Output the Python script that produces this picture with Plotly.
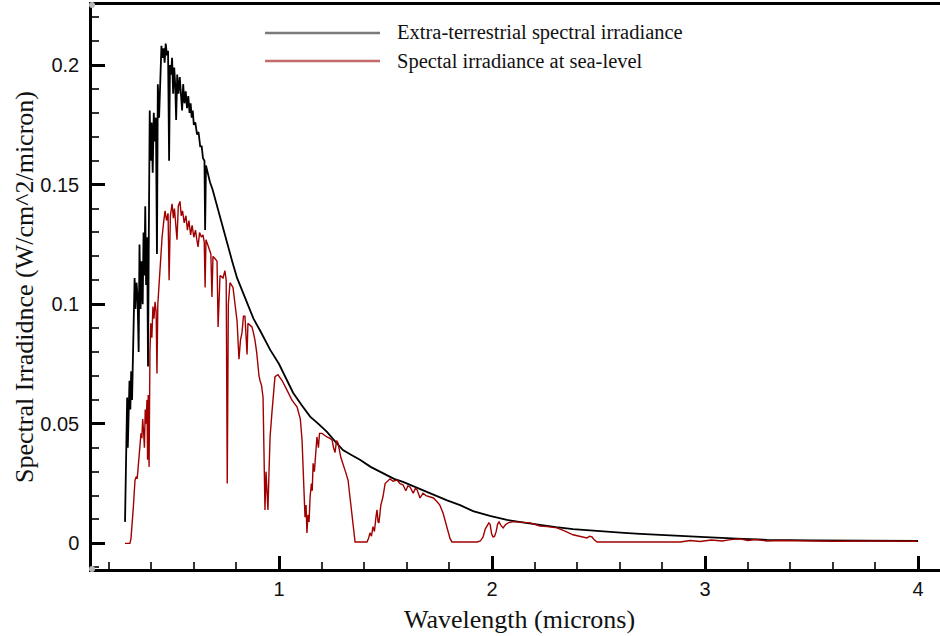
import plotly.graph_objects as go

# ---- data: extra-terrestrial spectral irradiance (W/cm^2/micron) ----
et_wavelength = [
    0.277, 0.280, 0.284, 0.287, 0.290, 0.294, 0.298, 0.302, 0.306, 0.310,
    0.314, 0.318, 0.322, 0.326, 0.331, 0.336, 0.341, 0.345, 0.350, 0.355,
    0.360, 0.364, 0.368, 0.372, 0.376, 0.381, 0.385, 0.389, 0.393, 0.397,
    0.402, 0.407, 0.412, 0.417, 0.422, 0.427, 0.431, 0.437, 0.442, 0.448,
    0.453, 0.458, 0.463, 0.468, 0.474, 0.479, 0.484, 0.488, 0.493, 0.498,
    0.503, 0.508, 0.513, 0.517, 0.522, 0.528, 0.534, 0.540, 0.545, 0.550,
    0.556, 0.562, 0.568, 0.574, 0.580, 0.585, 0.590, 0.595, 0.600, 0.607,
    0.615, 0.622, 0.630, 0.637, 0.643, 0.650, 0.653, 0.657, 0.666, 0.676,
    0.688, 0.700, 0.712, 0.723, 0.740, 0.756, 0.780, 0.803, 0.830, 0.854,
    0.880, 0.911, 0.935, 0.958, 1.000, 1.038, 1.066, 1.105, 1.146, 1.185,
    1.225, 1.260, 1.300, 1.340, 1.380, 1.430, 1.488, 1.540, 1.582, 1.640,
    1.695, 1.750, 1.789, 1.850, 1.911, 1.990, 2.070, 2.150, 2.225, 2.300,
    2.380, 2.460, 2.540, 2.620, 2.695, 2.800, 2.977, 3.150, 3.291, 3.500,
    3.750, 4.000,
]
et_irradiance = [
    0.009, 0.032, 0.045, 0.061, 0.040, 0.052, 0.068, 0.056, 0.072, 0.060,
    0.077, 0.095, 0.111, 0.098, 0.109, 0.103, 0.080, 0.125, 0.098, 0.118,
    0.100, 0.130, 0.112, 0.141, 0.108, 0.128, 0.074, 0.132, 0.181, 0.160,
    0.176, 0.155, 0.180, 0.168, 0.178, 0.121, 0.192, 0.178, 0.196, 0.208,
    0.203, 0.207, 0.201, 0.209, 0.204, 0.206, 0.160, 0.200, 0.196, 0.203,
    0.188, 0.199, 0.191, 0.177, 0.196, 0.188, 0.195, 0.186, 0.181, 0.192,
    0.184, 0.189, 0.182, 0.187, 0.180, 0.184, 0.178, 0.181, 0.175, 0.176,
    0.171, 0.172, 0.166, 0.166, 0.161, 0.160, 0.131, 0.158, 0.154, 0.151,
    0.148, 0.144, 0.140, 0.136, 0.131, 0.126, 0.118, 0.111, 0.105, 0.100,
    0.094, 0.089, 0.085, 0.081, 0.075, 0.068, 0.063, 0.058, 0.053, 0.050,
    0.0466, 0.043, 0.039, 0.037, 0.035, 0.032, 0.0295, 0.027, 0.0257, 0.0235,
    0.0215, 0.0195, 0.018, 0.016, 0.0135, 0.0115, 0.0098, 0.0087, 0.0077, 0.0068,
    0.006, 0.0054, 0.0048, 0.0044, 0.004, 0.0034, 0.0027, 0.0020, 0.0015, 0.0013,
    0.0011, 0.0010,
]

# ---- data: spectral irradiance at sea level (W/cm^2/micron) ----
sl_wavelength = [
    0.277, 0.300, 0.305, 0.310, 0.316, 0.320, 0.324, 0.330, 0.334, 0.338,
    0.343, 0.347, 0.352, 0.356, 0.360, 0.364, 0.368, 0.372, 0.376, 0.380,
    0.383, 0.386, 0.390, 0.394, 0.398, 0.403, 0.408, 0.413, 0.418, 0.423,
    0.427, 0.431, 0.437, 0.444, 0.451, 0.458, 0.465, 0.472, 0.479, 0.484,
    0.490, 0.498, 0.504, 0.509, 0.515, 0.521, 0.527, 0.535, 0.541, 0.547,
    0.555, 0.563, 0.570, 0.577, 0.585, 0.592, 0.600, 0.608, 0.614, 0.620,
    0.627, 0.636, 0.643, 0.649, 0.653, 0.657, 0.665, 0.672, 0.680, 0.685,
    0.690, 0.700, 0.709, 0.714, 0.719, 0.723, 0.737, 0.746, 0.752, 0.757,
    0.762, 0.770, 0.784, 0.793, 0.803, 0.812, 0.819, 0.826, 0.833, 0.840,
    0.845, 0.850, 0.854, 0.864, 0.873, 0.880, 0.887, 0.895, 0.901, 0.906,
    0.911, 0.918, 0.925, 0.930, 0.934, 0.939, 0.944, 0.948, 0.953, 0.958,
    0.967, 0.975, 0.981, 0.995, 1.015, 1.038, 1.060, 1.085, 1.100, 1.108,
    1.115, 1.122, 1.127, 1.131, 1.136, 1.141, 1.146, 1.152, 1.156, 1.160,
    1.166, 1.172, 1.178, 1.185, 1.190, 1.202, 1.215, 1.225, 1.237, 1.249,
    1.256, 1.263, 1.270, 1.277, 1.290, 1.300, 1.312, 1.324, 1.335, 1.343,
    1.350, 1.357, 1.413, 1.420, 1.427, 1.434, 1.441, 1.448, 1.455, 1.460,
    1.465, 1.469, 1.478, 1.488, 1.498, 1.510, 1.521, 1.535, 1.554, 1.568,
    1.582, 1.595, 1.605, 1.615, 1.630, 1.640, 1.648, 1.662, 1.676, 1.690,
    1.709, 1.725, 1.742, 1.755, 1.770, 1.782, 1.793, 1.803, 1.812, 1.930,
    1.945, 1.958, 1.968, 1.977, 1.985, 1.991, 1.998, 2.005, 2.012, 2.019,
    2.026, 2.033, 2.042, 2.052, 2.063, 2.075, 2.095, 2.117, 2.150, 2.178,
    2.200, 2.225, 2.260, 2.305, 2.340, 2.380, 2.410, 2.430, 2.446, 2.458,
    2.469, 2.480, 2.493, 2.883, 2.930, 2.977, 3.030, 3.080, 3.120, 3.164,
    3.200, 3.240, 3.291, 3.350, 3.446, 3.600, 3.800, 3.995,
]
sl_irradiance = [
    0.0, 0.0, 0.002, 0.007, 0.015, 0.021, 0.0265, 0.028, 0.027, 0.031,
    0.036, 0.039, 0.046, 0.044, 0.052, 0.047, 0.040, 0.056, 0.050, 0.060,
    0.035, 0.062, 0.032, 0.080, 0.092, 0.086, 0.099, 0.094, 0.101, 0.097,
    0.071, 0.100, 0.109, 0.120, 0.128, 0.134, 0.139, 0.135, 0.138, 0.110,
    0.137, 0.142, 0.136, 0.140, 0.135, 0.127, 0.141, 0.143, 0.137, 0.139,
    0.134, 0.137, 0.131, 0.135, 0.129, 0.133, 0.128, 0.131, 0.127, 0.124,
    0.130, 0.128, 0.129, 0.126, 0.107, 0.127, 0.125, 0.123, 0.121, 0.103,
    0.120, 0.119, 0.118, 0.0905, 0.108, 0.112, 0.111, 0.114, 0.110, 0.025,
    0.100, 0.109, 0.107, 0.099, 0.093, 0.077, 0.085, 0.088, 0.095, 0.095,
    0.086, 0.079, 0.092, 0.091, 0.0905, 0.088, 0.085, 0.080, 0.074, 0.070,
    0.068, 0.066, 0.061, 0.040, 0.014, 0.030, 0.018, 0.014, 0.030, 0.0445,
    0.055, 0.065, 0.0697, 0.0705, 0.068, 0.064, 0.060, 0.057, 0.052, 0.0433,
    0.030, 0.011, 0.016, 0.0044, 0.012, 0.009, 0.0195, 0.025, 0.022, 0.0335,
    0.030, 0.040, 0.0445, 0.040, 0.046, 0.046, 0.045, 0.0445, 0.044, 0.0433,
    0.040, 0.038, 0.043, 0.042, 0.036, 0.0335, 0.030, 0.0265, 0.018, 0.011,
    0.004, 0.0006, 0.0006, 0.002, 0.0044, 0.003, 0.007, 0.005, 0.011, 0.014,
    0.009, 0.0086, 0.016, 0.0195, 0.025, 0.026, 0.027, 0.026, 0.0265, 0.025,
    0.0245, 0.022, 0.024, 0.0236, 0.021, 0.023, 0.0224, 0.019, 0.021, 0.020,
    0.0195, 0.019, 0.0174, 0.016, 0.0127, 0.009, 0.0056, 0.002, 0.0006, 0.0006,
    0.001, 0.0027, 0.006, 0.0077, 0.0086, 0.008, 0.004, 0.0027, 0.003, 0.0048,
    0.008, 0.009, 0.0075, 0.0065, 0.0078, 0.0086, 0.0090, 0.009, 0.0088, 0.0086,
    0.0080, 0.0073, 0.0070, 0.0065, 0.0052, 0.0036, 0.0030, 0.0026, 0.0023, 0.0030,
    0.0027, 0.0015, 0.0006, 0.0006, 0.0012, 0.0008, 0.0014, 0.0010, 0.0016, 0.0019,
    0.0012, 0.0016, 0.0010, 0.0012, 0.0010, 0.0009, 0.0010, 0.0009,
]

series_names = ["Extra-terrestrial spectral irradiance", "Spectal irradiance at sea-level"]
x_title = "Wavelength (microns)"
y_title = "Spectral Irradidnce (W/cm^2/micron)"
x_tickvals = [1, 2, 3, 4]
x_ticktext = ["1", "2", "3", "4"]
y_tickvals = [0, 0.05, 0.1, 0.15, 0.2]
y_ticktext = ["0", "0.05", "0.1", "0.15", "0.2"]

ET_COLOR = "#000000"
SL_COLOR = "#a00000"
SANS = "Liberation Sans, Arial, Helvetica, sans-serif"
SERIF = "Liberation Serif, Times New Roman, serif"

fig = go.Figure()
fig.add_trace(go.Scatter(x=et_wavelength, y=et_irradiance, mode="lines",
                         name=series_names[0], line=dict(color=ET_COLOR, width=1.8)))
fig.add_trace(go.Scatter(x=sl_wavelength, y=sl_irradiance, mode="lines",
                         name=series_names[1], line=dict(color=SL_COLOR, width=1.4)))

# manual legend (long sample lines as in the original)
legend_y = [0.9504, 0.9007]
legend_colors = ["#7a7a7a", "#c46a6a"]
for name, ly, lc in zip(series_names, legend_y, legend_colors):
    fig.add_shape(type="line", xref="paper", yref="paper", x0=0.204, x1=0.3396,
                  y0=ly, y1=ly, line=dict(color=lc, width=2.5))
    fig.add_annotation(xref="paper", yref="paper", x=0.3573, y=ly, text=name,
                       showarrow=False, xanchor="left", yanchor="middle",
                       font=dict(family=SERIF, size=20.5, color="#111111"))

# x-axis title placed below the tick labels
fig.add_annotation(xref="paper", yref="paper", x=0.504, y=-0.0904, text=x_title,
                   showarrow=False, xanchor="center", yanchor="middle",
                   font=dict(family=SERIF, size=26, color="#111111"))

# small grey dots at the axis corners
for yc in [0.0, 1.0]:
    fig.add_shape(type="circle", xref="paper", yref="paper", xsizemode="pixel",
                  ysizemode="pixel", xanchor=0, yanchor=yc, x0=-3, x1=3, y0=-3, y1=3,
                  fillcolor="#b8b8b8", line=dict(width=0))

fig.update_layout(
    width=940, height=636,
    margin=dict(l=92, r=0, t=5, b=67, autoexpand=False),
    paper_bgcolor="white", plot_bgcolor="white",
    showlegend=False,
    xaxis=dict(
        range=[0.122, 4.103], showgrid=False, zeroline=False, automargin=False,
        showline=True, linecolor="black", linewidth=2.5, mirror=True,
        ticks="inside", ticklen=13, tickwidth=2.5, tickcolor="black",
        tickvals=x_tickvals, ticktext=x_ticktext,
        minor=dict(dtick=0.2, tick0=0, ticks="inside", ticklen=7, tickwidth=1.5, tickcolor="#333"),
        tickfont=dict(family=SANS, size=20, color="#111"),
        ticklabelstandoff=0,
    ),
    yaxis=dict(
        range=[-0.0107, 0.2251], showgrid=False, zeroline=False, automargin=False,
        showline=True, linecolor="black", linewidth=2.5,
        ticks="inside", ticklen=13, tickwidth=2.5, tickcolor="black",
        tickvals=y_tickvals, ticktext=y_ticktext,
        minor=dict(dtick=0.01, tick0=0, ticks="inside", ticklen=7, tickwidth=1.5, tickcolor="#333"),
        tickfont=dict(family=SANS, size=20, color="#111"),
        ticklabelstandoff=6,
        title=dict(text=y_title, font=dict(family=SERIF, size=26, color="#111"), standoff=0),
    ),
)

fig.write_html("out.html", config={"displayModeBar": False},
               post_script="document.body.style.margin='0';")
